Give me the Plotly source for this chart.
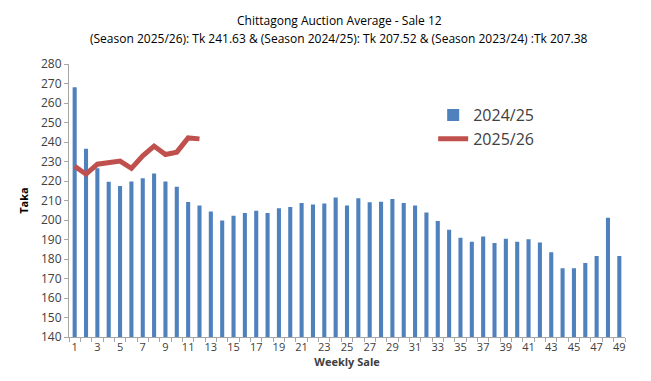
import plotly.graph_objects as go

weeks = list(range(1, 50))
season_2024_25 = [268.1, 236.5, 226.6, 219.6, 217.4, 219.8, 221.4, 223.8, 219.8, 217.1,
                  209.2, 207.5, 204.3, 199.7, 202.2, 203.6, 204.8, 203.6, 206.0, 206.7,
                  208.7, 208.0, 208.4, 211.5, 207.4, 211.1, 209.1, 209.4, 210.8, 208.7,
                  207.4, 203.9, 199.5, 195.0, 190.9, 188.9, 191.6, 188.2, 190.4, 188.9,
                  190.1, 188.4, 183.4, 175.2, 175.2, 178.0, 181.5, 201.2, 181.5]
weeks_2025_26 = list(range(1, 13))
season_2025_26 = [227.6, 223.5, 228.6, 229.3, 230.2, 226.5, 232.9, 237.9, 233.6, 234.8,
                  242.1, 241.6]
x_tick_labels = [str(w) for w in range(1, 50, 2)]

title_line1 = "Chittagong Auction Average - Sale 12"
title_line2 = "(Season 2025/26): Tk 241.63 & (Season 2024/25): Tk 207.52 & (Season 2023/24) :Tk 207.38"

fig = go.Figure()
fig.add_trace(go.Bar(x=weeks, y=season_2024_25, name="2024/25",
                     marker=dict(color="#4F81BD", line=dict(width=0)), width=0.36))
fig.add_trace(go.Scatter(x=weeks_2025_26, y=season_2025_26, name="2025/26", mode="lines",
                         line=dict(color="#C0504D", width=5)))

fig.update_layout(
    width=651, height=381,
    margin=dict(l=61, r=34, t=56, b=52),
    paper_bgcolor="white", plot_bgcolor="white",
    font=dict(family="Open Sans, Liberation Sans, sans-serif", color="#404040", size=11),
    showlegend=True,
    legend=dict(x=0.655, y=0.875, xanchor="left", yanchor="top",
                font=dict(size=16, color="#404040"), bgcolor="rgba(0,0,0,0)",
                tracegroupgap=4),
)
fig.add_annotation(text=title_line1, xref="paper", yref="paper", x=(331 - 61) / 556,
                   y=1 + (56 - 12) / 273.4, showarrow=False, xanchor="center", yanchor="middle",
                   font=dict(size=12, color="#000000", family="Open Sans, sans-serif"))
fig.add_annotation(text=title_line2, xref="paper", yref="paper", x=(331 - 61) / 556,
                   y=1 + (56 - 30) / 273.4, showarrow=False, xanchor="center", yanchor="middle",
                   font=dict(size=12, color="#000000", family="Open Sans, sans-serif"))

fig.update_xaxes(
    range=[0.5, 49.5], tickvals=list(range(1, 50, 2)), ticktext=x_tick_labels,
    ticks="", showline=True, linecolor="#A6A6A6", linewidth=1, showgrid=False, zeroline=False,
    tickfont=dict(size=11, color="#404040"),
    minor=dict(tick0=0.5, dtick=1, ticks="outside", ticklen=4, tickcolor="#A6A6A6", showgrid=False),
    title=dict(text="<b>Weekly Sale</b>", font=dict(size=11, color="#404040"), standoff=4),
)
fig.update_yaxes(
    range=[140, 280], dtick=10, tick0=140, ticks="outside", ticklen=4, tickcolor="#A6A6A6",
    showline=True, linecolor="#A6A6A6", linewidth=1, showgrid=False, zeroline=False,
    tickfont=dict(size=12, color="#404040"),
    title=dict(text="<b>Taka</b>", font=dict(size=11, color="#000000"), standoff=10),
)

fig.write_html("out.html")
